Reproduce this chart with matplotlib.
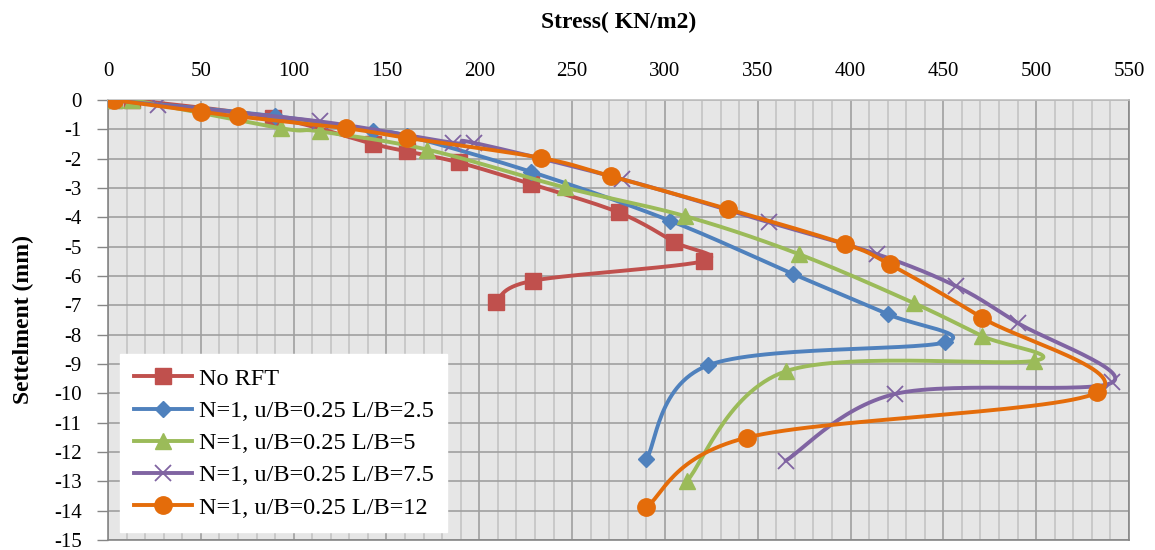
import numpy as np
import matplotlib
matplotlib.use("Agg")
import matplotlib.pyplot as plt
from matplotlib.lines import Line2D


# ======================
# Data
# ======================

series_names = [
    "No RFT",
    "N=1, u/B=0.25 L/B=2.5",
    "N=1, u/B=0.25 L/B=5",
    "N=1, u/B=0.25 L/B=7.5",
    "N=1, u/B=0.25 L/B=12",
]

stress_no_rft = [3, 13, 89, 143, 161, 189, 228, 275, 305, 321, 229, 209]
settle_no_rft = [0, 0, -0.6, -1.5, -1.75, -2.13, -2.87, -3.83, -4.84, -5.49, -6.16, -6.87]

stress_lb25 = [3, 90, 143, 161, 228, 303, 369, 420, 451, 323, 290]
settle_lb25 = [0, -0.55, -1.05, -1.22, -2.45, -4.12, -5.93, -7.3, -8.26, -9.05, -12.25]

stress_lb5 = [4, 13, 93, 114, 172, 246, 311, 372, 434, 471, 499, 365, 312]
settle_lb5 = [0, 0, -0.96, -1.07, -1.69, -2.98, -3.96, -5.25, -6.92, -8.05, -8.89, -9.25, -12.98]

stress_lb75 = [2, 27, 114, 186, 197, 277, 356, 414, 457, 490, 541, 424, 365]
settle_lb75 = [0, -0.17, -0.73, -1.46, -1.46, -2.7, -4.17, -5.25, -6.35, -7.6, -9.63, -10.02, -12.3]

stress_lb12 = [3, 50, 70, 128, 161, 233, 271, 334, 397, 421, 471, 533, 344, 290]
settle_lb12 = [0, -0.4, -0.56, -0.96, -1.29, -1.97, -2.6, -3.72, -4.91, -5.6, -7.43, -9.97, -11.51, -13.88]

x_ticks = list(range(0, 551, 50))
y_ticks = list(range(-15, 1, 1))


# ======================
# Style
# ======================

plt.rcParams["font.family"] = ["Liberation Serif", "DejaVu Serif"]
plt.rcParams["axes.unicode_minus"] = False

colors = ["#C0504D", "#4F81BD", "#9BBB59", "#8064A2", "#E46C0A"]
markers = ["s", "D", "^", "x", "o"]
msizes = [12, 8, 12, 12, 12.5]
mews = [1, 1, 1, 1.3, 1]
line_w = 2.8


# smooth line like Excel: cubic bezier through the points, in pixel space
def excel_smooth(x, y, sx, sy, n=30):
    p = np.column_stack([np.asarray(x, float) * sx, np.asarray(y, float) * sy])
    pts = [p[0]]
    t = np.linspace(0, 1, n + 1)[1:, None]
    for i in range(len(p) - 1):
        p0 = p[i - 1] if i > 0 else p[i]
        p1 = p[i]
        p2 = p[i + 1]
        p3 = p[i + 2] if i + 2 < len(p) else p[i + 1]
        c1 = p1 + (p2 - p0) / 6
        c2 = p2 - (p3 - p1) / 6
        seg = ((1 - t) ** 3 * p1 + 3 * (1 - t) ** 2 * t * c1
               + 3 * (1 - t) * t ** 2 * c2 + t ** 3 * p2)
        pts.extend(seg)
    pts = np.array(pts)
    return pts[:, 0] / sx, pts[:, 1] / sy


# ======================
# Plot
# ======================

fig = plt.figure(figsize=(11.55, 5.5), dpi=100)
ax = fig.add_axes([108 / 1155, 10 / 550, 1021 / 1155, 440 / 550])
ax.set_facecolor("#E6E6E6")

ax.set_xlim(0, 550)
ax.set_ylim(-15, 0)

# px per data unit
sx = 1021 / 550
sy = 440 / 15

data = [
    (stress_no_rft, settle_no_rft),
    (stress_lb25, settle_lb25),
    (stress_lb5, settle_lb5),
    (stress_lb75, settle_lb75),
    (stress_lb12, settle_lb12),
]

handles = []
for k, (xs, ys) in enumerate(data):
    c = colors[k]
    xs_s, ys_s = excel_smooth(xs, ys, sx, sy)
    ax.plot(xs_s, ys_s, color=c, lw=line_w, zorder=3 + k,
            solid_capstyle="round", solid_joinstyle="round")
    ax.plot(xs, ys, linestyle="none", marker=markers[k], ms=msizes[k],
            mfc=c, mec=c, mew=mews[k], zorder=3.5 + k)
    handles.append(
        Line2D([], [], color=c, lw=line_w, marker=markers[k],
               ms=msizes[k], mfc=c, mec=c, mew=mews[k])
    )

# axes / ticks
ax.xaxis.tick_top()
ax.xaxis.set_label_position("top")
ax.set_xticks(x_ticks)
ax.set_xticks(range(0, 551, 10), minor=True)
ax.set_yticks(y_ticks)

ax.tick_params(axis="x", which="both", length=0, pad=14, labelsize=15)
ax.tick_params(axis="y", which="major", length=8, width=1, color="#868686",
               pad=11, labelsize=15)

ax.grid(which="major", axis="both", color="#A0A0A0", lw=1.2, zorder=1)
ax.grid(which="minor", axis="x", color="#C4C4C4", lw=1.2, zorder=0.9)
ax.set_axisbelow(True)

for side in ["left", "right", "bottom"]:
    ax.spines[side].set_color("#868686")
    ax.spines[side].set_linewidth(1.2)
ax.spines["top"].set_color("#C0C0C0")
ax.spines["top"].set_linewidth(1.2)

ax.set_xlabel("Stress( KN/m2)", fontsize=17, fontweight="bold", labelpad=24)
ax.set_ylabel("Settelment (mm)", fontsize=17, fontweight="bold", labelpad=14)

leg = ax.legend(
    handles, series_names,
    loc="lower left", bbox_to_anchor=(0.012, 0.018), borderaxespad=0,
    frameon=True, fancybox=False, facecolor="white", edgecolor="white",
    framealpha=1, fontsize=17.5, handlelength=2.4, handletextpad=0.3,
    labelspacing=0.42, borderpad=0.55,
)
leg.set_zorder(20)

fig.savefig("out.png", dpi=100)
